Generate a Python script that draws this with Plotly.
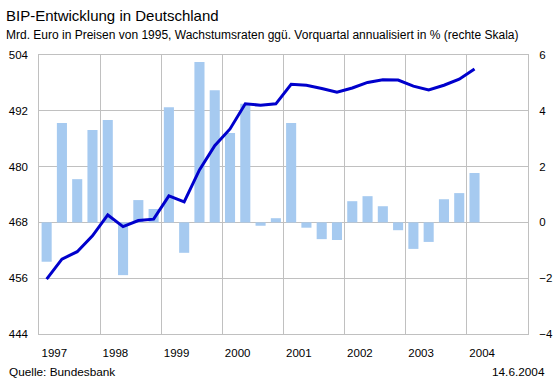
import plotly.graph_objects as go
import numpy as np

quarters = [f"{y} Q{q}" for y in range(1997, 2005) for q in range(1, 5)][:29]
years = ["1997", "1998", "1999", "2000", "2001", "2002", "2003", "2004"]

# GDP level, bn euro (left axis)
bip = [455.8, 460.1, 461.7, 465.1, 469.6, 467.1, 468.4, 468.7,
       473.7, 472.4, 479.3, 484.5, 488.1, 493.5, 493.2, 493.5,
       497.7, 497.5, 496.8, 496.0, 496.9, 498.1, 498.7, 498.6,
       497.3, 496.5, 497.5, 498.8, 501.0]

# growth rate q/q annualised, % (right axis)
wachstum = [-1.41, 3.56, 1.55, 3.31, 3.67, -1.89, 0.80, 0.48,
            4.13, -1.09, 5.75, 4.74, 3.20, 4.25, -0.12, 0.15,
            3.56, -0.19, -0.60, -0.63, 0.76, 0.94, 0.58, -0.28,
            -0.95, -0.70, 0.83, 1.05, 1.77]

left_ticks = [444, 456, 468, 480, 492, 504]
right_ticks = [-4, -2, 0, 2, 4, 6]

xpos = np.arange(len(quarters))
n_slots = 4 * len(years)

grid = "#C0C0C0"
font = "Liberation Sans, Arial, sans-serif"

fig = go.Figure()
fig.add_trace(go.Bar(x=xpos, y=wachstum, yaxis="y", marker=dict(color="#A6CAF0", line=dict(width=0)),
                     hovertext=quarters, name="Wachstum"))
fig.add_trace(go.Scatter(x=xpos, y=bip, yaxis="y2", mode="lines",
                         line=dict(color="#0000CC", width=3), hovertext=quarters, name="BIP"))

fig.update_layout(
    width=555, height=388,
    margin=dict(l=39, r=27, t=55, b=54, autoexpand=False),
    paper_bgcolor="white", plot_bgcolor="white",
    showlegend=False, bargap=0.34,
    font=dict(family=font, size=11.5, color="black"),
    xaxis=dict(range=[-0.5, n_slots - 0.5],
               tickvals=[4 * i + 0.5 for i in range(len(years))], ticktext=years,
               showgrid=False, zeroline=False, ticks="",
               showline=True, linecolor=grid, linewidth=1, mirror=True,
               ticklabelstandoff=8,
               minor=dict(tickvals=[4 * i - 0.5 for i in range(1, len(years))],
                          showgrid=True, gridcolor=grid, gridwidth=1, ticks="")),
    yaxis=dict(range=[-4, 6], tickvals=right_ticks, side="right",
               showgrid=True, gridcolor=grid, gridwidth=1, zeroline=False, ticks="",
               showline=True, linecolor=grid, mirror=True, ticklabelstandoff=8),
    yaxis2=dict(range=[444, 504], tickvals=left_ticks, side="left", overlaying="y",
                showgrid=False, zeroline=False, ticks="", ticklabelstandoff=10),
)

def px2paper_x(px):
    return (px - 39) / 489

def px2paper_y(py):
    return (334 - py) / 279

anns = [
    dict(text="BIP-Entwicklung in Deutschland", x=px2paper_x(4), y=px2paper_y(16), size=15),
    dict(text="Mrd. Euro in Preisen von 1995, Wachstumsraten ggü. Vorquartal annualisiert in % (rechte Skala)",
         x=px2paper_x(4), y=px2paper_y(35), size=12),
    dict(text="Quelle: Bundesbank", x=px2paper_x(7), y=px2paper_y(372), size=11.8),
]
for a in anns:
    fig.add_annotation(text=a["text"], x=a["x"], y=a["y"], xref="paper", yref="paper",
                       xanchor="left", yanchor="middle", showarrow=False,
                       font=dict(size=a["size"], family=font, color="black"))
fig.add_annotation(text="14.6.2004", x=px2paper_x(547), y=px2paper_y(372), xref="paper", yref="paper",
                   xanchor="right", yanchor="middle", showarrow=False,
                   font=dict(size=11.8, family=font, color="black"))

fig.write_html("out.html", config={"displayModeBar": False},
               post_script="document.body.style.margin='0px';document.body.style.padding='0px';")
